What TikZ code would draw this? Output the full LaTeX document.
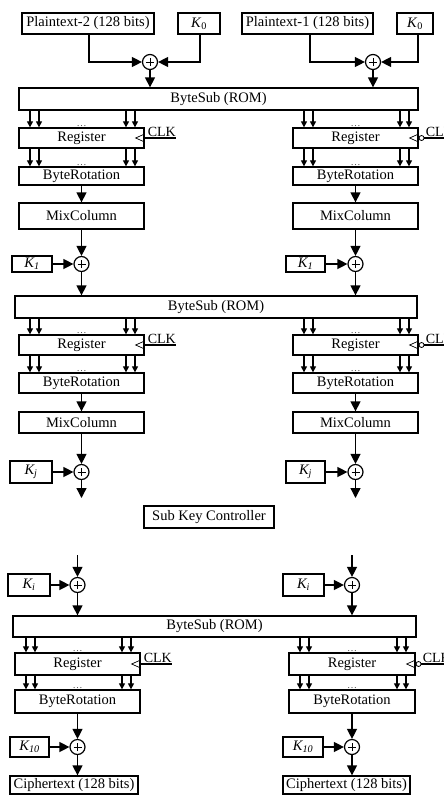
\documentclass[tikz,border=0pt]{standalone}
\usepackage{fontspec}
\setmainfont{Liberation Serif}
\usetikzlibrary{arrows.meta}
\tikzset{
 box/.style={draw, line width=1.3pt, rectangle, inner sep=0pt, font=\fontsize{14.5}{16}\selectfont},
 xor/.style={draw, circle, line width=1.2pt, minimum size=15pt, inner sep=0pt,
   path picture={\draw[line width=0.8pt] ([xshift=-4pt]path picture bounding box.center) -- ([xshift=4pt]path picture bounding box.center)
     ([yshift=-4pt]path picture bounding box.center) -- ([yshift=4pt]path picture bounding box.center);}},
 arr/.style={line width=1.3pt, -{Triangle[length=10pt,width=10pt]}},
 sarr/.style={line width=1.2pt, -{Triangle[length=6pt,width=6pt]}},
 wire/.style={line width=1.1pt},
 dts/.style={font=\fontsize{10}{10}\selectfont, inner sep=0pt, text=black!70},
 clk/.style={font=\fontsize{14}{14}\selectfont, inner sep=0pt, anchor=south west},
 bub/.style={draw, circle, line width=0.8pt, minimum size=5pt, inner sep=0pt, anchor=west},
}
\newcommand\bx[6]{\node[box,minimum width={(#4-#2)*1pt},minimum height={(#5-#3)*1pt}] (#1) at ({(#2+#4)/2},{(#3+#5)/2}) {#6};}
\newcommand\fourarr[4]{%
  \foreach \xx in {11,20} {\path (#3+\xx,0) coordinate (tmp); \draw[sarr] (#1.south -| tmp) -- (#2.north -| tmp);}
  \foreach \xx in {18,9} {\path (#4-\xx,0) coordinate (tmp); \draw[sarr] (#1.south -| tmp) -- (#2.north -| tmp);}
  \node[dts,anchor=south] at ([yshift=1pt]#2.north) {\dots};
}
\newcommand\clkL[1]{%
  \draw[line width=0.7pt] ([yshift=4pt]#1.east) -- ([xshift=-9pt]#1.east) -- ([yshift=-4pt]#1.east);
  \draw[wire] (#1.east) -- ++(31,0);
  \node[clk] at ([xshift=3pt,yshift=1.5pt]#1.east) {CLK};
}
\newcommand\clkR[2]{%
  \draw[line width=0.7pt] ([yshift=4pt]#1.east) -- ([xshift=-9pt]#1.east) -- ([yshift=-4pt]#1.east);
  \node[bub] (#2) at (#1.east) {};
  \draw[wire] (#2.east) -- ++(40,0);
  \node[clk] at ([xshift=7pt,yshift=1.5pt]#1.east) {CLK};
}
\begin{document}
\begin{tikzpicture}[x=1pt,y=-1pt]
\useasboundingbox (0,0) rectangle (444,796);
\clip (0,0) rectangle (444,796);
% top inputs
\bx{pt2}{22}{13}{154}{34}{Plaintext-2 (128 bits)}
\bx{k0a}{178}{13}{220}{34}{\textit{K}\textsubscript{0}}
\bx{pt1}{242}{13}{373}{34}{Plaintext-1 (128 bits)}
\bx{k0b}{397}{13}{433}{34}{\textit{K}\textsubscript{0}}
\node[xor] (xa) at (150,62) {};
\node[xor] (xb) at (373,62) {};
\draw[arr] ([xshift=1pt]pt2.south) |- (xa.west);
\draw[arr] ([xshift=1pt]k0a.south) |- (xa.east);
\draw[arr] ([xshift=2.5pt]pt1.south) |- (xb.west);
\draw[arr] ([xshift=3pt]k0b.south) |- (xb.east);
\bx{bs1}{19}{88}{418}{110}{ByteSub (ROM)}
\draw[arr] (xa.south) -- (xa |- bs1.north);
\draw[arr] (xb.south) -- (xb |- bs1.north);
% round 1
\bx{r1L}{19}{128}{144}{148}{Register}
\bx{r1R}{293}{128}{418}{148}{Register}
\fourarr{bs1}{r1L}{19}{144}
\fourarr{bs1}{r1R}{293}{418}
\clkL{r1L}
\clkR{r1R}{q1}
\bx{b1L}{19}{167}{144}{185}{ByteRotation}
\bx{b1R}{293}{167}{418}{185}{ByteRotation}
\fourarr{r1L}{b1L}{19}{144}
\fourarr{r1R}{b1R}{293}{418}
\bx{m1L}{19}{203}{144}{229}{MixColumn}
\bx{m1R}{293}{203}{418}{229}{MixColumn}
\draw[arr] (b1L.south) -- (m1L.north);
\draw[arr] (b1R.south) -- (m1R.north);
\node[xor] (c1L) at (81.5,264) {};
\node[xor] (c1R) at (355.5,264) {};
\bx{k1L}{12}{256}{52}{272}{\textit{K\textsubscript{1}}}
\bx{k1R}{286}{256}{325}{272}{\textit{K\textsubscript{1}}}
\draw[arr] (m1L.south) -- (c1L.north);
\draw[arr] (m1R.south) -- (c1R.north);
\draw[arr] (k1L.east) -- (c1L.west);
\draw[arr] (k1R.east) -- (c1R.west);
\bx{bs2}{15}{296}{417}{318}{ByteSub (ROM)}
\draw[arr] (c1L.south) -- (c1L |- bs2.north);
\draw[arr] (c1R.south) -- (c1R |- bs2.north);
% round j
\bx{r2L}{19}{335}{144}{355}{Register}
\bx{r2R}{293}{335}{418}{355}{Register}
\fourarr{bs2}{r2L}{19}{144}
\fourarr{bs2}{r2R}{293}{418}
\clkL{r2L}
\clkR{r2R}{q2}
\bx{b2L}{19}{373}{144}{393}{ByteRotation}
\bx{b2R}{293}{373}{418}{393}{ByteRotation}
\fourarr{r2L}{b2L}{19}{144}
\fourarr{r2R}{b2R}{293}{418}
\bx{m2L}{19}{412}{144}{433}{MixColumn}
\bx{m2R}{293}{412}{418}{433}{MixColumn}
\draw[arr] (b2L.south) -- (m2L.north);
\draw[arr] (b2R.south) -- (m2R.north);
\node[xor] (cjL) at (81.5,472) {};
\node[xor] (cjR) at (355.5,472) {};
\bx{kjL}{10}{461}{52}{483}{\textit{K\textsubscript{j}}}
\bx{kjR}{286}{461}{325}{483}{\textit{K\textsubscript{j}}}
\draw[arr] (m2L.south) -- (cjL.north);
\draw[arr] (m2R.south) -- (cjR.north);
\draw[arr] (kjL.east) -- (cjL.west);
\draw[arr] (kjR.east) -- (cjR.west);
\coordinate (ejL) at (81.5,498);
\coordinate (ejR) at (355.5,498);
\draw[arr] (cjL.south) -- (ejL);
\draw[arr] (cjR.south) -- (ejR);
% sub key controller
\bx{skc}{144}{506}{274}{528}{Sub Key Controller}
% last round
\coordinate (siL) at (77.5,555);
\coordinate (siR) at (352,555);
\node[xor] (ciL) at (77.5,585) {};
\node[xor] (ciR) at (352,585) {};
\bx{kiL}{8}{574}{50}{596}{\textit{K\textsubscript{i}}}
\bx{kiR}{283}{574}{324}{596}{\textit{K\textsubscript{i}}}
\draw[arr] (siL) -- (ciL.north);
\draw[arr] (siR) -- (ciR.north);
\draw[arr] (kiL.east) -- (ciL.west);
\draw[arr] (kiR.east) -- (ciR.west);
\bx{bs3}{13}{616}{416}{637}{ByteSub (ROM)}
\draw[arr] (ciL.south) -- (ciL |- bs3.north);
\draw[arr] (ciR.south) -- (ciR |- bs3.north);
\bx{r3L}{15}{653}{140}{675}{Register}
\bx{r3R}{289}{653}{415}{675}{Register}
\fourarr{bs3}{r3L}{15}{140}
\fourarr{bs3}{r3R}{289}{415}
\clkL{r3L}
\clkR{r3R}{q3}
\bx{b3L}{15}{690}{140}{713}{ByteRotation}
\bx{b3R}{289}{690}{415}{713}{ByteRotation}
\fourarr{r3L}{b3L}{15}{140}
\fourarr{r3R}{b3R}{289}{415}
\node[xor] (c10L) at (77.5,747) {};
\node[xor] (c10R) at (352,747) {};
\bx{k10L}{10}{737}{49}{757}{\textit{K\textsubscript{10}}}
\bx{k10R}{283}{737}{323}{757}{\textit{K\textsubscript{10}}}
\draw[arr] (b3L.south) -- (c10L.north);
\draw[arr] (b3R.south) -- (c10R.north);
\draw[arr] (k10L.east) -- (c10L.west);
\draw[arr] (k10R.east) -- (c10R.west);
\bx{ctL}{10}{776}{138}{794}{Ciphertext (128 bits)}
\bx{ctR}{283}{776}{410}{794}{Ciphertext (128 bits)}
\draw[arr] (c10L.south) -- (c10L |- ctL.north);
\draw[arr] (c10R.south) -- (c10R |- ctR.north);
\end{tikzpicture}
\end{document}
